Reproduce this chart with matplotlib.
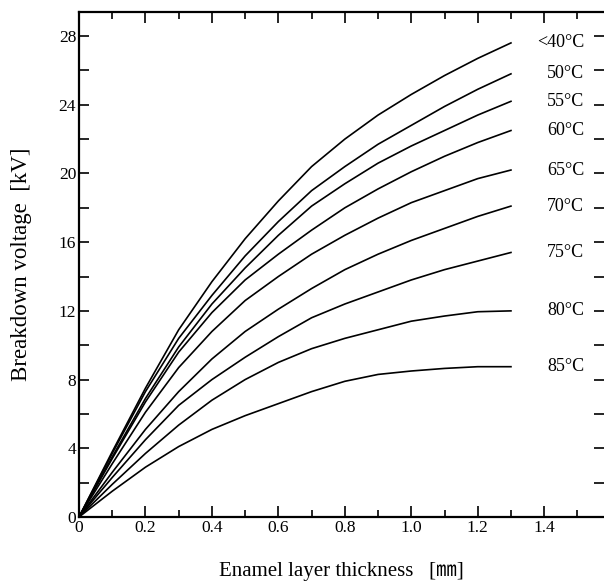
import matplotlib
matplotlib.use("Agg")
import matplotlib.pyplot as plt
from matplotlib.ticker import MultipleLocator

# Data
thickness_mm = [0.0, 0.1, 0.2, 0.3, 0.4, 0.5, 0.6, 0.7, 0.8, 0.9, 1.0, 1.1, 1.2, 1.3]

temperature_labels = ["<40°C", "50°C", "55°C", "60°C", "65°C", "70°C", "75°C", "80°C", "85°C"]

voltage_lt40_kV = [0, 3.8, 7.5, 10.9, 13.7, 16.2, 18.4, 20.4, 22.0, 23.4, 24.6, 25.7, 26.7, 27.6]
voltage_50_kV = [0, 3.7, 7.3, 10.4, 12.9, 15.2, 17.2, 19.0, 20.4, 21.7, 22.8, 23.9, 24.9, 25.8]
voltage_55_kV = [0, 3.5, 6.9, 9.9, 12.4, 14.5, 16.4, 18.1, 19.4, 20.6, 21.6, 22.5, 23.4, 24.2]
voltage_60_kV = [0, 3.4, 6.7, 9.6, 11.9, 13.8, 15.3, 16.7, 18.0, 19.1, 20.1, 21.0, 21.8, 22.5]
voltage_65_kV = [0, 3.1, 6.1, 8.7, 10.8, 12.6, 14.0, 15.3, 16.4, 17.4, 18.3, 19.0, 19.7, 20.2]
voltage_70_kV = [0, 2.6, 5.1, 7.3, 9.2, 10.8, 12.1, 13.3, 14.4, 15.3, 16.1, 16.8, 17.5, 18.1]
voltage_75_kV = [0, 2.3, 4.5, 6.5, 8.0, 9.3, 10.5, 11.6, 12.4, 13.1, 13.8, 14.4, 14.9, 15.4]
voltage_80_kV = [0, 1.9, 3.7, 5.35, 6.8, 8.0, 9.0, 9.8, 10.4, 10.9, 11.4, 11.7, 11.95, 12.0]
voltage_85_kV = [0, 1.5, 2.9, 4.1, 5.1, 5.9, 6.6, 7.3, 7.9, 8.3, 8.5, 8.65, 8.75, 8.75]

voltages = [voltage_lt40_kV, voltage_50_kV, voltage_55_kV, voltage_60_kV, voltage_65_kV,
            voltage_70_kV, voltage_75_kV, voltage_80_kV, voltage_85_kV]

plt.rcParams["font.family"] = ["Liberation Serif", "DejaVu Serif", "Noto Sans CJK JP"]

fig = plt.figure(figsize=(6.04, 5.88), dpi=100)
ax = fig.add_axes([79 / 604, 71 / 588, 1 - 79 / 604, 505 / 588])

for y, label in zip(voltages, temperature_labels):
    ax.plot(thickness_mm, y, color="black", linewidth=1.2)
    ax.text(1.52, y[-1], label, ha="right", va="center", fontsize=13)

ax.set_xlim(0, 1.58)
ax.set_ylim(0, 29.4)

ax.xaxis.set_minor_locator(MultipleLocator(0.1))
ax.yaxis.set_major_locator(MultipleLocator(4))
ax.yaxis.set_minor_locator(MultipleLocator(2))
ax.set_xticks([0, 0.2, 0.4, 0.6, 0.8, 1.0, 1.2, 1.4])
ax.set_xticklabels(["0", "0.2", "0.4", "0.6", "0.8", "1.0", "1.2", "1.4"])

ax.tick_params(which="both", direction="in", top=True, right=True, width=1.2,
               labelsize=12.5, pad=2)
ax.tick_params(which="major", length=8)
ax.tick_params(which="minor", length=5)
ax.tick_params(axis="y", which="both", right=True, length=7)

# right edge of the frame is cut off in the original, only ticks remain
ax.spines["right"].set_visible(False)
for side in ["left", "bottom", "top"]:
    ax.spines[side].set_linewidth(1.6)

ax.set_xlabel("Enamel layer thickness   [㎜]", fontsize=15, labelpad=19)
ax.set_ylabel("Breakdown voltage  [kV]", fontsize=16.5, labelpad=19)

fig.savefig("out.png", dpi=100)
